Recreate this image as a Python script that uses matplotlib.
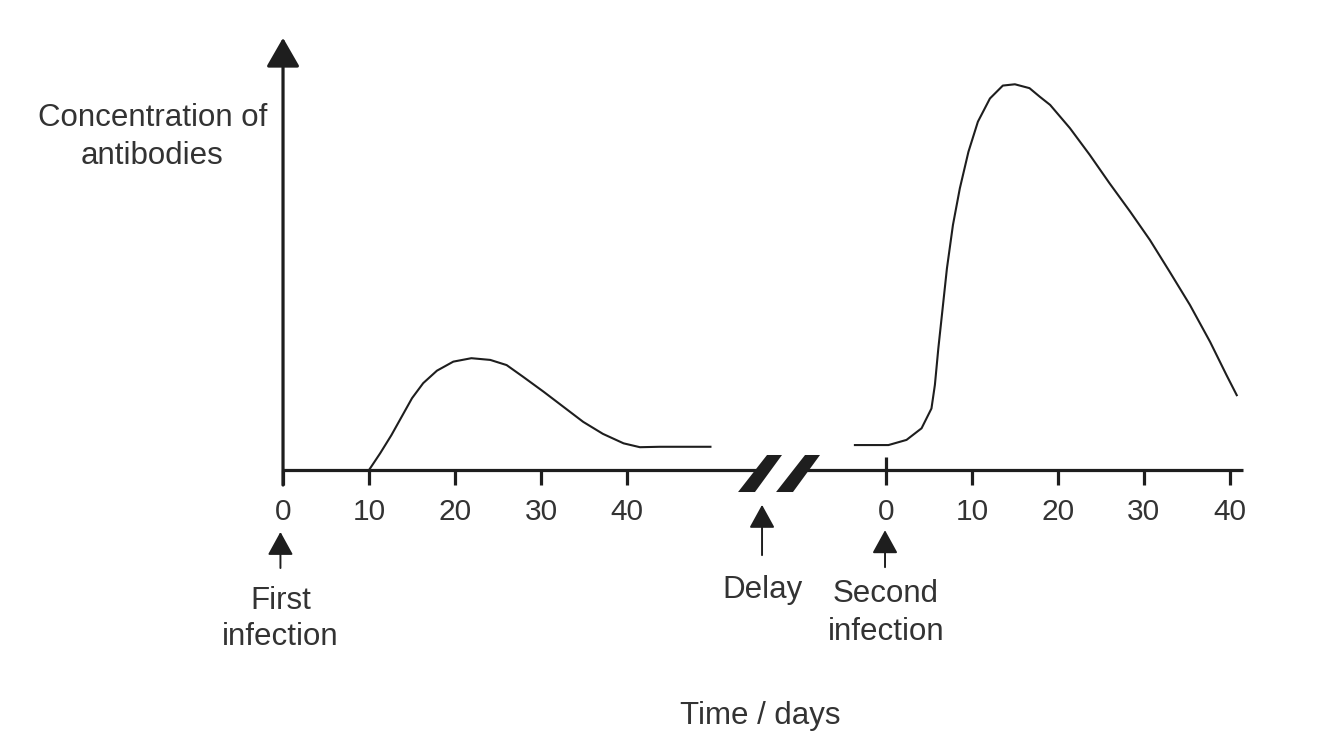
# Antibody concentration after first and second infection
import numpy as np
from matplotlib import pyplot as plt
from matplotlib.patches import Polygon

plt.rcParams["font.family"] = ["Liberation Sans", "DejaVu Sans"]

# ----------------------------------------------------
# Data (days, arbitrary concentration units)
# ----------------------------------------------------
first_days = [10.0, 11.3, 12.6, 13.8, 15.0, 16.3, 17.9, 19.8, 21.9, 24.1, 26.0,
              27.9, 30.3, 32.6, 34.9, 37.2, 39.6, 41.5, 43.8, 49.7]
first_conc = [0.0, 3.9, 8.1, 12.4, 16.7, 20.2, 23.1, 25.2, 26.0, 25.6, 24.4,
              21.7, 18.2, 14.7, 11.2, 8.4, 6.2, 5.3, 5.4, 5.4]

second_days = [-3.6, 0.3, 2.4, 4.15, 5.3, 5.7, 6.1, 6.6, 7.1, 7.8, 8.6, 9.6,
               10.7, 12.1, 13.6, 15.0, 16.7, 17.9, 19.1, 21.4, 23.7, 26.0,
               28.4, 30.7, 33.0, 35.35, 37.7, 39.6, 40.8]
second_conc = [5.8, 5.8, 7.0, 9.7, 14.3, 19.8, 28.3, 37.6, 46.9, 57.0, 65.5, 74.0,
               81.0, 86.4, 89.4, 89.7, 88.8, 86.8, 84.9, 79.5, 73.3, 66.7,
               60.1, 53.5, 46.1, 38.4, 29.8, 22.1, 17.4]

tick_days = [0, 10, 20, 30, 40]
tick_labels = ["0", "10", "20", "30", "40"]

# second panel is drawn after the break, shifted along x
OFFSET = 70.1

INK = "#1e1e1e"
TXT = "#333333"

# ----------------------------------------------------
# Figure: one axes covering the whole canvas
# ----------------------------------------------------
fig = plt.figure(figsize=(13.28, 7.52), dpi=100)
ax = fig.add_axes([0, 0, 1, 1])
ax.set_xlim(-32.91, 121.51)
ax.set_ylim(-65.58, 109.30)
ax.axis("off")

# curves
ax.plot(first_days, first_conc, color=INK, lw=1.5, solid_joinstyle="round")
ax.plot(np.array(second_days) + OFFSET, second_conc, color=INK, lw=1.5,
        solid_joinstyle="round")

# x axis, broken in the middle
ax.plot([0, 55.7], [0, 0], color=INK, lw=2.3, solid_capstyle="butt")
ax.plot([60.0, 111.6], [0, 0], color=INK, lw=2.3, solid_capstyle="butt")
for xs in [(52.91, 54.88, 58.02, 56.28), (57.33, 59.30, 62.44, 60.70)]:
    ax.add_patch(Polygon(list(zip(xs, (-5.12, -5.12, 3.49, 3.49))),
                         closed=True, facecolor=INK, edgecolor="none"))

# y axis with arrow head
ax.annotate("", xy=(0, 100.5), xytext=(0, -3.5),
            arrowprops=dict(arrowstyle="-|>,head_length=0.4,head_width=0.23",
                            mutation_scale=45, lw=2.3, color=INK,
                            shrinkA=0, shrinkB=0))

# ticks and labels
for shift in (0, OFFSET):
    for d, lab in zip(tick_days, tick_labels):
        top = 3.0 if (shift and d == 0) else 0
        ax.plot([d + shift, d + shift], [top, -3.5], color=INK, lw=2.3,
                solid_capstyle="butt")
        ax.text(d + shift, -9.8, lab, ha="center", va="center",
                fontsize=21.5, color=TXT)

# small arrows below the axis
small = dict(arrowstyle="-|>,head_length=0.4,head_width=0.22",
             mutation_scale=36, lw=1.4, color=INK, shrinkA=0, shrinkB=0)
ax.annotate("", xy=(-0.3, -14.4), xytext=(-0.3, -22.8), arrowprops=small)
ax.annotate("", xy=(55.7, -8.1), xytext=(55.7, -19.8), arrowprops=small)
ax.annotate("", xy=(70.0, -14.0), xytext=(70.0, -22.6), arrowprops=small)

# annotations
ax.text(-15.2, 77.4, "Concentration of\nantibodies", ha="center", va="center",
        fontsize=22.5, color=TXT, linespacing=1.33)
ax.text(-0.3, -34.6, "First\ninfection", ha="center", va="center",
        fontsize=22.5, color=TXT, linespacing=1.28)
ax.text(55.8, -27.9, "Delay", ha="center", va="center",
        fontsize=22.5, color=TXT)
ax.text(70.1, -33.3, "Second\ninfection", ha="center", va="center",
        fontsize=22.5, color=TXT, linespacing=1.33)
ax.text(55.5, -57.2, "Time / days", ha="center", va="center",
        fontsize=22.5, color=TXT)

plt.savefig("out.png", dpi=100)
plt.close()
